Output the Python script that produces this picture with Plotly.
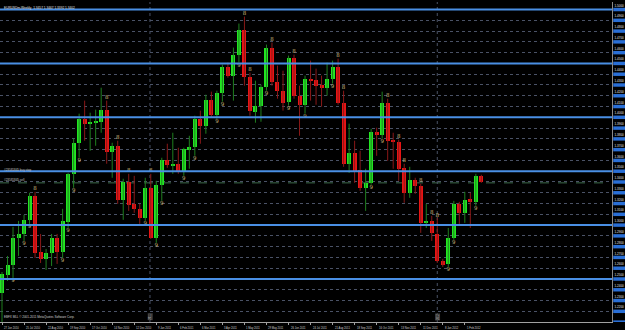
import pandas as pd
import plotly.graph_objects as go

# ---------------- data ----------------
start_week = "2010-06-27"
n_weeks = 88
dates = pd.date_range(start=start_week, periods=n_weeks, freq="7D")

opens = [1.2370, 1.2537, 1.2630, 1.2881, 1.2918, 1.3049, 1.3272, 1.2751, 1.2686, 1.2742,
         1.2881, 1.2751, 1.3030, 1.3476, 1.3764, 1.3987, 1.3941, 1.3950, 1.3959, 1.4071,
         1.3681, 1.3736, 1.3234, 1.3402, 1.3197, 1.3151, 1.3067, 1.3346, 1.2881, 1.3374,
         1.3606, 1.3550, 1.3569, 1.3504, 1.3699, 1.3727, 1.3987, 1.3922, 1.4164, 1.4025,
         1.4229, 1.4471, 1.4387, 1.4582, 1.4814, 1.4378, 1.4052, 1.4108, 1.4285, 1.4647,
         1.4331, 1.4247, 1.4145, 1.4554, 1.4201, 1.4117, 1.4359, 1.4350, 1.4303, 1.4275,
         1.4359, 1.4471, 1.4136, 1.3569, 1.3671, 1.3513, 1.3346, 1.3392, 1.3867, 1.3839,
         1.4136, 1.3783, 1.3774, 1.3532, 1.3300, 1.3420, 1.3365, 1.3021, 1.3039, 1.2918,
         1.2668, 1.2640, 1.2881, 1.3197, 1.3114, 1.3244, 1.3216, 1.3457]
highs = [1.2565, 1.2714, 1.2984, 1.3039, 1.3095, 1.3300, 1.3309, 1.2918, 1.2779, 1.2918,
         1.2918, 1.3151, 1.3485, 1.3801, 1.4034, 1.4155, 1.4043, 1.4071, 1.4275, 1.4155,
         1.3764, 1.3783, 1.3430, 1.3476, 1.3457, 1.3197, 1.3439, 1.3476, 1.3411, 1.3625,
         1.3755, 1.3857, 1.3718, 1.3718, 1.3829, 1.4015, 1.4062, 1.4210, 1.4238, 1.4247,
         1.4489, 1.4508, 1.4647, 1.4870, 1.4935, 1.4415, 1.4340, 1.4303, 1.4675, 1.4694,
         1.4480, 1.4433, 1.4573, 1.4582, 1.4294, 1.4387, 1.4526, 1.4452, 1.4387, 1.4508,
         1.4526, 1.4545, 1.4247, 1.3941, 1.3783, 1.3690, 1.3523, 1.3894, 1.3904, 1.4238,
         1.4173, 1.3857, 1.3792, 1.3569, 1.3541, 1.3439, 1.3383, 1.3197, 1.3086, 1.3067,
         1.2686, 1.2974, 1.3225, 1.3216, 1.3309, 1.3300, 1.3476, 1.3467]
lows = [1.2063, 1.2482, 1.2510, 1.2714, 1.2853, 1.3011, 1.2695, 1.2649, 1.2584, 1.2621,
        1.2640, 1.2695, 1.2974, 1.3346, 1.3625, 1.3783, 1.3690, 1.3736, 1.3857, 1.3569,
        1.3439, 1.3197, 1.3049, 1.3132, 1.3114, 1.3011, 1.3039, 1.2872, 1.2835, 1.3225,
        1.3532, 1.3476, 1.3476, 1.3457, 1.3523, 1.3643, 1.3755, 1.3848, 1.3997, 1.3987,
        1.4145, 1.4368, 1.4155, 1.4508, 1.4294, 1.4015, 1.3950, 1.3959, 1.4247, 1.4294,
        1.4173, 1.4062, 1.4108, 1.4173, 1.3829, 1.4034, 1.4155, 1.4117, 1.4099, 1.4201,
        1.4313, 1.4117, 1.3541, 1.3485, 1.3392, 1.3318, 1.3132, 1.3374, 1.3643, 1.3801,
        1.3597, 1.3523, 1.3411, 1.3207, 1.3253, 1.3290, 1.2928, 1.2974, 1.2853, 1.2649,
        1.2612, 1.2612, 1.2863, 1.3011, 1.3021, 1.2974, 1.3179, 1.3392]
closes = [1.2547, 1.2630, 1.2881, 1.2918, 1.3049, 1.3272, 1.2742, 1.2686, 1.2742, 1.2881,
          1.2751, 1.3039, 1.3476, 1.3764, 1.3987, 1.3941, 1.3959, 1.3969, 1.4071, 1.3681,
          1.3736, 1.3234, 1.3402, 1.3188, 1.3151, 1.3067, 1.3346, 1.2881, 1.3374, 1.3606,
          1.3560, 1.3569, 1.3504, 1.3708, 1.3727, 1.3987, 1.3922, 1.4164, 1.4025, 1.4229,
          1.4471, 1.4387, 1.4582, 1.4814, 1.4378, 1.4062, 1.4108, 1.4285, 1.4647, 1.4331,
          1.4247, 1.4136, 1.4554, 1.4201, 1.4117, 1.4359, 1.4340, 1.4294, 1.4275, 1.4359,
          1.4471, 1.4136, 1.3569, 1.3671, 1.3504, 1.3346, 1.3392, 1.3867, 1.3839, 1.4136,
          1.3783, 1.3774, 1.3523, 1.3300, 1.3420, 1.3365, 1.3021, 1.3039, 1.2928, 1.2668,
          1.2630, 1.2881, 1.3197, 1.3114, 1.3234, 1.3216, 1.3457, 1.3402]

fractal_up_idx = [6, 19, 21, 23, 27, 44, 45, 49, 53, 61, 62, 70, 72, 73, 76, 78, 79]
fractal_dn_idx = [2, 4, 5, 11, 12, 13, 14, 26, 28, 29, 33, 35, 39, 40, 43, 48, 52, 55,
                  60, 67, 69, 81, 82, 86]

level_lines = [1.25, 1.30, 1.35, 1.40, 1.45, 1.50]
price_ticks = [round(1.21 + 0.01 * k, 2) for k in range(30)]
order_sell_price = 1.3392
year_marks = ["2011-01-01", "2012-01-01"]
year_labels = ["2011", "2012"]

time_labels = ["27 Jun 2010", "25 Jul 2010", "22 Aug 2010", "19 Sep 2010", "17 Oct 2010",
               "14 Nov 2010", "12 Dec 2010", "9 Jan 2011", "6 Feb 2011", "6 Mar 2011",
               "3 Apr 2011", "1 May 2011", "29 May 2011", "26 Jun 2011", "24 Jul 2011",
               "21 Aug 2011", "18 Sep 2011", "16 Oct 2011", "13 Nov 2011", "11 Dec 2011",
               "8 Jan 2012", "5 Feb 2012"]
time_label_dates = [dates[4 * k] for k in range(len(time_labels))]

# ---------------- styles ----------------
BULL = "#22e622"
BEAR = "#e81414"
BULL_WICK = "#1f7f1f"
BEAR_WICK = "#8a1818"
GRID = "#4a5266"
BLUE = "#4a8fe4"
GLYPH = "#c8b67a"
FONT = "Liberation Sans"

fig = go.Figure()

# wicks
for color, cond in ((BULL_WICK, True), (BEAR_WICK, False)):
    wx, wy = [], []
    for d, o, h, l, c in zip(dates, opens, highs, lows, closes):
        if (c >= o) == cond:
            wx += [d, d, None]
            wy += [l, h, None]
    fig.add_trace(go.Scatter(x=wx, y=wy, mode="lines", line=dict(color=color, width=1),
                             hoverinfo="skip"))

# bodies
fig.add_trace(go.Bar(
    x=dates, y=[c - o for o, c in zip(opens, closes)], base=opens,
    width=4.4e8,
    marker=dict(color=[BULL if c >= o else BEAR for o, c in zip(opens, closes)],
                line=dict(width=0)),
    hoverinfo="skip"))

# fractal glyphs
fig.add_trace(go.Scatter(
    x=[dates[i] for i in fractal_up_idx], y=[highs[i] for i in fractal_up_idx],
    mode="text", text=["8"] * len(fractal_up_idx), textposition="top center",
    textfont=dict(size=5.5, color=GLYPH, family="DejaVu Sans"), hoverinfo="skip"))
fig.add_trace(go.Scatter(
    x=[dates[i] for i in fractal_dn_idx], y=[lows[i] for i in fractal_dn_idx],
    mode="text", text=["9"] * len(fractal_dn_idx), textposition="bottom center",
    textfont=dict(size=5.5, color=GLYPH, family="DejaVu Sans"), hoverinfo="skip"))

x0 = dates[0] - pd.Timedelta(days=2.55)
x1 = dates[0] + pd.Timedelta(days=775)

shapes = []
for lv in level_lines:
    shapes.append(dict(type="line", xref="paper", x0=0, x1=1, yref="y", y0=lv, y1=lv,
                       line=dict(color=BLUE, width=2), layer="above"))
shapes.append(dict(type="line", xref="paper", x0=0, x1=1, yref="y",
                   y0=order_sell_price, y1=order_sell_price,
                   line=dict(color="#3e6b4c", width=1, dash="dash"), layer="below"))
for ym in year_marks:
    shapes.append(dict(type="line", xref="x", x0=ym, x1=ym, yref="paper", y0=0, y1=1,
                       line=dict(color=GRID, width=1, dash="dot"), layer="below"))
for p in price_ticks:
    shapes.append(dict(type="rect", xref="paper", x0=1.002, x1=1.0225, yref="y",
                       y0=p - 0.0016, y1=p + 0.0016, fillcolor="#2a6fd6",
                       line=dict(width=0), layer="above"))

annotations = []
annotations.append(dict(text="EURUSDm,Weekly  1.3457 1.3467 1.3392 1.3402", xref="paper",
                        yref="paper", x=0.004, y=0.995, xanchor="left", yanchor="top",
                        showarrow=False, font=dict(size=3.2, color="#e0e0e0", family=FONT)))
annotations.append(dict(text="#23581845 buy stop", xref="paper", yref="y", x=0.004,
                        y=1.3515, xanchor="left", yanchor="middle", showarrow=False,
                        font=dict(size=3, color="#c8c8c8", family=FONT)))
annotations.append(dict(text="#23581845 sell", xref="paper", yref="y", x=0.004,
                        y=1.3422, xanchor="left", yanchor="middle", showarrow=False,
                        font=dict(size=3, color="#c8c8c8", family=FONT)))
annotations.append(dict(text="EBFX MLL \u00a9 2001-2011 MetaQuotes Software Corp.",
                        xref="paper", yref="paper", x=0.004, y=0.004, xanchor="left",
                        yanchor="bottom", showarrow=False,
                        font=dict(size=3, color="#d0d0d0", family=FONT)))
for ym, yl in zip(year_marks, year_labels):
    annotations.append(dict(text=yl, xref="x", yref="paper", x=ym, y=0.004,
                            xanchor="center", yanchor="bottom", textangle=-90,
                            showarrow=False, bgcolor="#3a3a3a", borderpad=0,
                            font=dict(size=2.6, color="#bdbdbd", family=FONT)))
for d, t in zip(time_label_dates, time_labels):
    annotations.append(dict(text=t, xref="x", yref="paper", x=d, y=0, yshift=-1.5,
                            xanchor="left", yanchor="top", showarrow=False,
                            font=dict(size=2.7, color="#d0d0d0", family=FONT)))

fig.update_layout(
    width=625, height=330,
    margin=dict(l=0, r=13, t=2, b=8),
    paper_bgcolor="#000000", plot_bgcolor="#000000",
    showlegend=False, barmode="overlay", bargap=0,
    shapes=shapes, annotations=annotations,
    xaxis=dict(type="date", range=[x0, x1], showgrid=False, zeroline=False,
               showline=True, linecolor="#a0a0a0", linewidth=1,
               tickvals=time_label_dates, ticks="outside", ticklen=2, tickcolor="#a0a0a0",
               showticklabels=False, fixedrange=True),
    yaxis=dict(side="right", range=[1.2101, 1.5070], tickvals=price_ticks,
               ticktext=[f"{p:.4f}" for p in price_ticks],
               tickfont=dict(size=3, color="#e8e8e8", family=FONT),
               ticklabelshift=-4, ticklabelstandoff=1,
               showgrid=True, gridcolor=GRID, griddash="dot", gridwidth=1,
               zeroline=False, showline=True, linecolor="#8a8a8a", linewidth=1,
               ticks="", fixedrange=True),
)

fig.write_html("out.html")
